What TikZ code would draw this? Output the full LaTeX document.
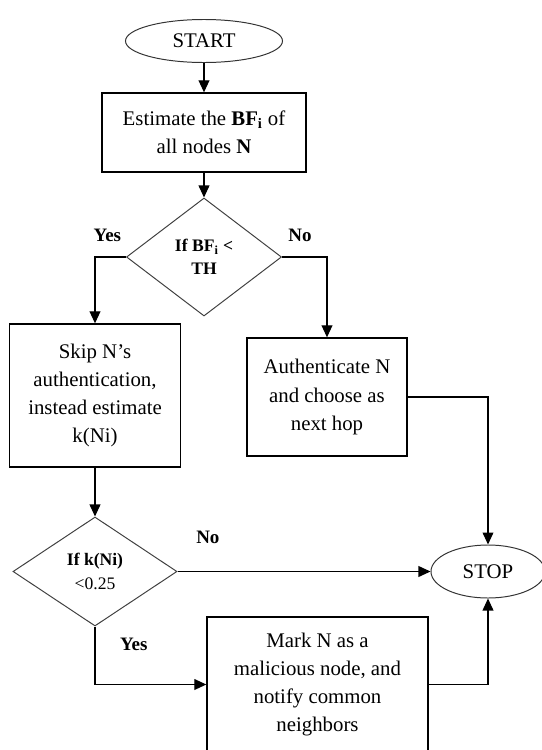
\documentclass[tikz,border=0pt]{standalone}
\usepackage{fontspec}
\setmainfont{Liberation Serif}
\usetikzlibrary{shapes.geometric,arrows.meta}
\begin{document}
\begin{tikzpicture}[x=.025cm,y=-.025cm,
  box/.style={rectangle,draw,line width=.9pt,align=center,inner sep=2pt,
    font=\fontsize{14.8}{20}\selectfont},
  dec/.style={diamond,draw=black!75,line width=.7pt,align=center,inner sep=1pt,
    font=\fontsize{12.5}{16.5}\selectfont},
  term/.style={ellipse,draw=black!80,line width=.7pt,inner sep=1pt,
    font=\fontsize{14.8}{17}\selectfont},
  lbl/.style={font=\fontsize{13.5}{15}\selectfont\bfseries},
  arr/.style={line width=.9pt,-{Triangle[length=3mm,width=2.7mm]}}]
  \useasboundingbox (0,0) rectangle (541,750);
  \node[term,minimum width=3.925cm,minimum height=1.075cm] (start) at (204,41) {START};
  \node[box,minimum width=5.1cm,minimum height=1.975cm] (est) at (204,132.5)
    {Estimate the \textbf{BF\textsubscript{i}} of\\all nodes \textbf{N}};
  \node[dec,minimum width=3.875cm,minimum height=2.95cm] (ifbf) at (204,257)
    {\textbf{If BF\textsubscript{i} <}\\\textbf{TH}};
  \node[box,minimum width=4.275cm,minimum height=3.575cm] (skip) at (95,395.5)
    {Skip N’s\\authentication,\\instead estimate\\k(Ni)};
  \node[box,minimum width=4cm,minimum height=2.95cm] (auth) at (327,397)
    {Authenticate N\\and choose as\\next hop};
  \node[dec,minimum width=4.1cm,minimum height=2.725cm] (ifk) at (95,571.5)
    {\textbf{If k(Ni)}\\<0.25};
  \node[term,minimum width=2.85cm,minimum height=1.325cm] (stop) at (488,571.5) {STOP};
  \node[box,minimum width=5.525cm,minimum height=3.375cm] (mark) at (317.5,684.5)
    {Mark N as a\\malicious node, and\\notify common\\neighbors};
  \draw[arr] (start)--(est);
  \draw[arr] (est)--(ifbf);
  \draw[arr] (ifbf.west) -| node[lbl,pos=.3,above=7pt] {Yes} (skip.north);
  \draw[arr] (ifbf.east) -| node[lbl,pos=.2,above=7pt] {No} (auth.north);
  \draw[arr] (skip)--(ifk);
  \draw[arr] (auth.east) -| (stop.north);
  \draw[arr] (ifk.east)--node[lbl,pos=.12,above=16pt] {No}(stop.west);
  \draw[arr] (ifk.south) |- node[lbl,pos=.15,right=14pt] {Yes} (mark.west);
  \draw[arr] (mark.east) -| (stop.south);
\end{tikzpicture}
\end{document}
